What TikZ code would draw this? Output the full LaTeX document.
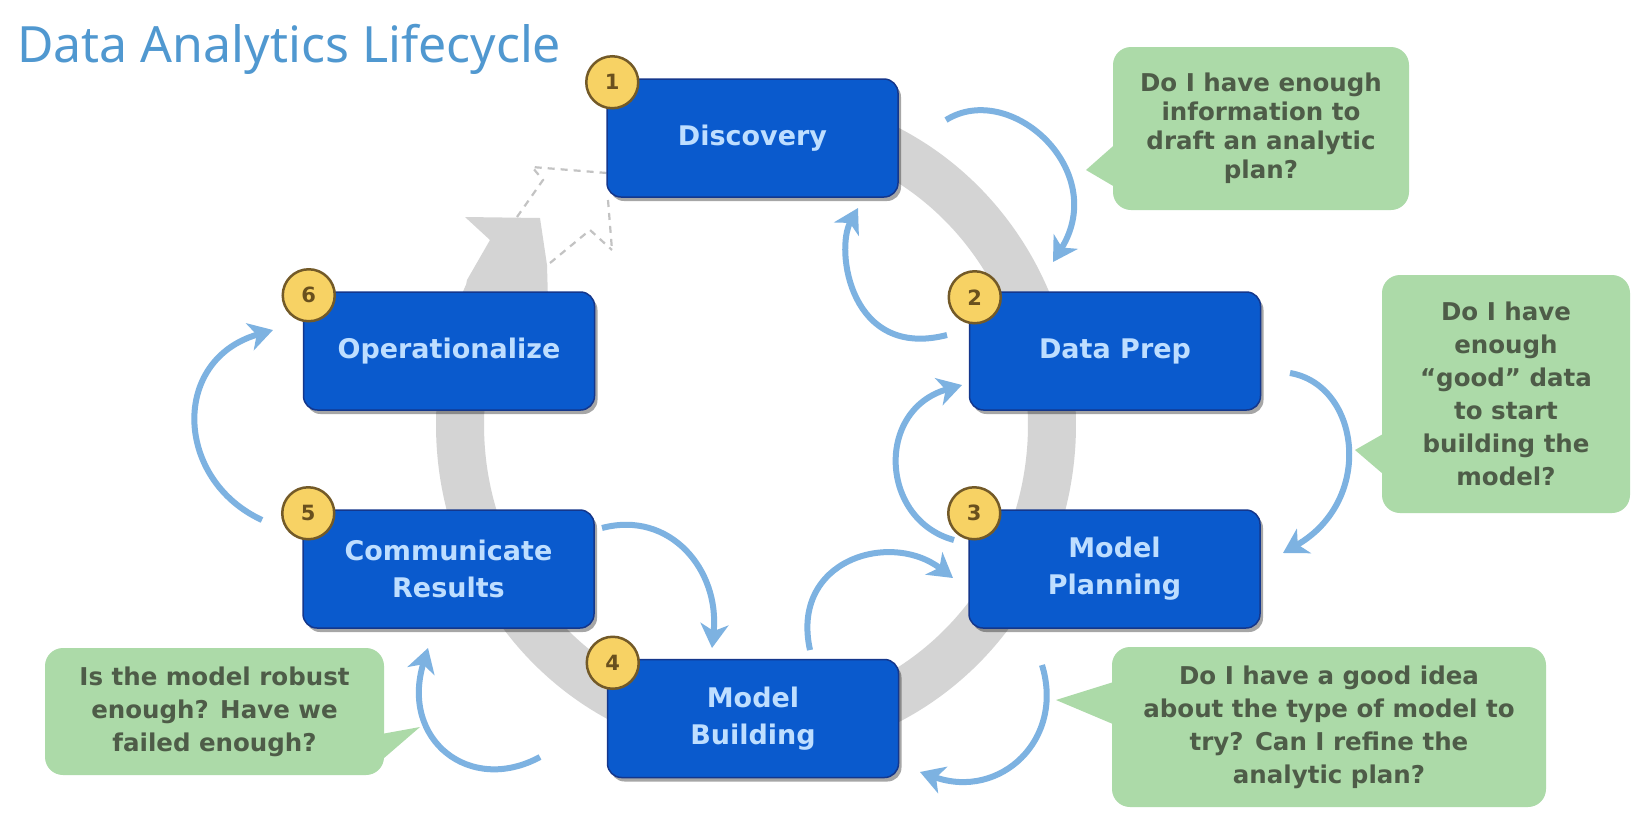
\documentclass[tikz,border=0pt]{standalone}
\usepackage{fontspec}
\setmainfont{DejaVu Sans}
\newfontfamily\titlefont{Noto Sans}
\usetikzlibrary{arrows.meta,shadows,calc}
\pgfdeclarelayer{bg}
\pgfsetlayers{bg,main}
\definecolor{boxblue}{RGB}{10,90,205}
\definecolor{boxedge}{RGB}{20,55,140}
\definecolor{boxtext}{RGB}{190,222,255}
\definecolor{badgefill}{RGB}{247,210,100}
\definecolor{badgeedge}{RGB}{115,90,40}
\definecolor{badgetext}{RGB}{105,80,30}
\definecolor{ringgray}{RGB}{212,212,212}
\definecolor{ghostgray}{RGB}{195,195,195}
\definecolor{flowblue}{RGB}{125,178,225}
\definecolor{callgreen}{RGB}{172,218,168}
\definecolor{calltext}{RGB}{78,92,72}
\definecolor{titleblue}{RGB}{80,152,208}
\begin{document}
\begin{tikzpicture}[x=1pt,y=-1pt,
  stage/.style={rectangle, rounded corners=14pt, minimum width=291pt, minimum height=118pt,
    fill=boxblue, draw=boxedge, line width=1.5pt, text=boxtext, align=center, inner sep=0pt,
    font=\fontsize{27}{37}\selectfont\bfseries,
    drop shadow={shadow xshift=3pt, shadow yshift=-4pt, fill=black, opacity=0.35}},
  badge/.style={circle, minimum size=52pt, inner sep=0pt, fill=badgefill, draw=badgeedge,
    line width=2.5pt, text=badgetext, font=\fontsize{21}{21}\selectfont\bfseries},
  callout/.style={rectangle, rounded corners=18pt, fill=callgreen, text=calltext, align=center,
    inner sep=0pt, font=\fontsize{24.5}{33}\selectfont\bfseries},
  flow/.style={draw=flowblue, line width=6pt, -{Stealth[length=24pt,width=28pt,inset=7pt]}},
  ghost/.style={draw=ghostgray, line width=2.2pt, dash pattern=on 7pt off 6pt},
]
\useasboundingbox (0,0) rectangle (1642,820);

% title
\node[anchor=base west, inner sep=0pt, text=titleblue,
  font=\titlefont\fontsize{50}{56}\selectfont] (title) at (17,62) {Data Analytics Lifecycle};

% stages
\node[stage] (disc) at (752.5,138) {Discovery};
\node[stage] (dp)   at (1115,351) {Data Prep};
\node[stage] (mp)   at (1114.5,569) {Model\\Planning};
\node[stage] (mb)   at (753,718.5) {Model\\Building};
\node[stage] (cr)   at (448.5,569) {Communicate\\Results};
\node[stage] (op)   at (449,351) {Operationalize};

% badges
\node[badge] (b1) at ($(disc.north west)+(6,4)$) {1};
\node[badge] (b2) at ($(dp.north west)+(6,6)$) {2};
\node[badge] (b3) at ($(mp.north west)+(6,4)$) {3};
\node[badge] (b4) at ($(mb.north west)+(6,4)$) {4};
\node[badge] (b5) at ($(cr.north west)+(6,4)$) {5};
\node[badge] (b6) at ($(op.north west)+(6,4)$) {6};

% background, ring and ghost arrow
\begin{pgfonlayer}{bg}
\fill[white] (0,0) rectangle (1642,820);
\draw[ringgray, line width=48pt] plot[domain=-205:100, samples=140, smooth]
  ({756+296*cos(\x)},{425-308*sin(\x)});
\fill[ringgray] (465,217) -- (540,218) -- (547,265) -- (548,300) -- (463,300)
  -- (467,280) -- (490,240) -- cycle;
\coordinate (g1) at (517,217);
\coordinate (g2) at (543,180);
\coordinate (g3) at (532,167);
\coordinate (g4) at (607,173);
\coordinate (g5) at (550,263);
\coordinate (g6) at (590,230);
\coordinate (g7) at (612,250);
\coordinate (g8) at (608,200);
\draw[ghost] (g1) -- (g2) -- (g3) -- (g4);
\draw[ghost] (g5) -- (g6) -- (g7);
\draw[ghost] (g8) -- (g7);
\end{pgfonlayer}

% callouts
\node[callout, minimum width=296pt, minimum height=163pt, font=\fontsize{24.5}{29}\selectfont\bfseries]
  (c1) at (1261,128.5) {Do I have enough\\information to\\draft an analytic\\plan?};
\coordinate (c1tip) at (1086,170);
\fill[callgreen] (c1tip) -- (1120,140) -- (1120,190) -- cycle;

\node[callout, minimum width=248pt, minimum height=238pt] (c2) at (1506,394)
  {Do I have\\enough\\“good” data\\to start\\building the\\model?};
\coordinate (c2tip) at (1355,450);
\fill[callgreen] (c2tip) -- (1390,430) -- (1390,480) -- cycle;

\node[callout, minimum width=434pt, minimum height=160pt] (c3) at (1329,727)
  {Do I have a good idea\\about the type of model to\\try? Can I refine the\\analytic plan?};
\coordinate (c3tip) at (1056,700);
\fill[callgreen] (c3tip) -- (1120,680) -- (1120,727) -- cycle;

\node[callout, minimum width=339pt, minimum height=127pt] (c4) at (214.5,711.5)
  {Is the model robust\\enough? Have we\\failed enough?};
\coordinate (c4tip) at (420,727);
\fill[callgreen] (c4tip) -- (376,735) -- (376,765) -- cycle;

% flow arrows
\coordinate (a1s) at (946,120);  \coordinate (a1e) at (1053,262);
\coordinate (a2s) at (947,335);  \coordinate (a2e) at (858,208);
\coordinate (a3s) at (1290,373); \coordinate (a3e) at (1283,553);
\coordinate (a4s) at (954,540);  \coordinate (a4e) at (962,385);
\coordinate (a5s) at (810,650);  \coordinate (a5e) at (953,578);
\coordinate (a6s) at (1042,665); \coordinate (a6e) at (920,772);
\coordinate (a7s) at (602,528);  \coordinate (a7e) at (712,648);
\coordinate (a8s) at (540,757);  \coordinate (a8e) at (428,648);
\coordinate (a9s) at (262,520);  \coordinate (a9e) at (273,330);

\draw[flow] (a1s) .. controls (1010,80) and (1110,170) .. (a1e);
\draw[flow] (a2s) .. controls (850,360) and (835,250) .. (a2e);
\draw[flow] (a3s) .. controls (1360,385) and (1375,500) .. (a3e);
\draw[flow] (a4s) .. controls (880,520) and (875,410) .. (a4e);
\draw[flow] (a5s) .. controls (790,560) and (890,530) .. (a5e);
\draw[flow] (a6s) .. controls (1065,740) and (1000,800) .. (a6e);
\draw[flow] (a7s) .. controls (670,510) and (720,570) .. (a7e);
\draw[flow] (a8s) .. controls (470,795) and (400,740) .. (a8e);
\draw[flow] (a9s) .. controls (175,480) and (170,360) .. (a9e);
\end{tikzpicture}
\end{document}
